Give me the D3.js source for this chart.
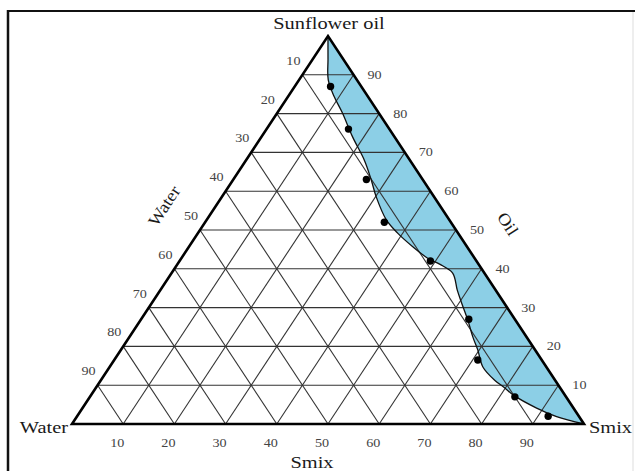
<!DOCTYPE html>
<html><head><meta charset="utf-8">
<script src="https://cdn.jsdelivr.net/npm/d3@7"></script>
<style>html,body{margin:0;padding:0;background:#fff;overflow:hidden}</style>
</head><body>
<svg id="c" width="635" height="471" xmlns="http://www.w3.org/2000/svg"></svg>
<script>
// ---- data ----
const tickValues = [10, 20, 30, 40, 50, 60, 70, 80, 90];
const vertexLabels = ["Water", "Smix", "Sunflower oil"];
const axisTitles = ["Water", "Oil", "Smix"];
// measured points (percent)
const pointOil  = [87, 76, 63, 52, 42, 27, 16.5, 7, 2];
const pointSmix = [7, 16, 26, 35, 49, 64, 71, 83, 92];
// boundary of the microemulsion region (percent)
const boundaryOil  = [100, 94, 88.7, 84.4, 80.2, 74, 68, 62.9, 58.6, 52.6, 49.2, 45.7, 42.8, 41.2, 38.9, 34.5, 31.2, 26.8, 22.4, 19.1, 14.7, 11.3, 9.3, 7.5, 4.1, 1.9, 0];
const boundarySmix = [0, 3, 5.7, 9, 12.7, 17.8, 23.1, 27, 30.1, 35.1, 39, 43.7, 48, 51.2, 54.9, 58, 60.5, 63.9, 67.1, 69.7, 72.9, 76.9, 79.9, 82.4, 88.7, 93.7, 100];

// ---- scales ----
const svg = d3.select("#c");
const xs = d3.scaleLinear().domain([0, 100]).range([72, 584]);
const ys = d3.scaleLinear().domain([0, 100]).range([424, 36]);
const P = (o, s) => [xs(s + o / 2), ys(o)];

const serif = "'Liberation Serif','Times New Roman',serif";

// frame
svg.append("line").attr("x1", 8).attr("y1", 11).attr("x2", 635).attr("y2", 11).attr("stroke", "#111").attr("stroke-width", 2);
svg.append("line").attr("x1", 8).attr("y1", 10).attr("x2", 8).attr("y2", 471).attr("stroke", "#111").attr("stroke-width", 2.5);
svg.append("line").attr("x1", 633).attr("y1", 12).attr("x2", 633).attr("y2", 471).attr("stroke", "#ddd").attr("stroke-width", 1);

// region fill
const bpts = boundaryOil.map((o, i) => P(o, boundarySmix[i]));
const curve = d3.line().curve(d3.curveCatmullRom.alpha(0.5));
svg.append("path").attr("d", curve(bpts) + "Z").attr("fill", "#8ccfe6").attr("stroke", "none");

// grid
const g = svg.append("g").attr("stroke", "#333").attr("stroke-width", 1.1).attr("fill", "none");
tickValues.forEach(v => {
  const lines = [
    [P(v, 0), P(v, 100 - v)],          // constant oil
    [P(0, v), P(100 - v, v)],          // constant smix
    [P(0, 100 - v), P(100 - v, 0)]     // constant water
  ];
  lines.forEach(l => g.append("line").attr("x1", l[0][0]).attr("y1", l[0][1]).attr("x2", l[1][0]).attr("y2", l[1][1]));
});

// boundary line
svg.append("path").attr("d", curve(bpts)).attr("fill", "none").attr("stroke", "#111").attr("stroke-width", 1.3);

// triangle
const tri = [P(0, 0), P(0, 100), P(100, 0)];
svg.append("path").attr("d", d3.line()(tri) + "Z").attr("fill", "none").attr("stroke", "#000").attr("stroke-width", 2.6).attr("stroke-linejoin", "miter");

// points
svg.append("g").selectAll("circle").data(pointOil).join("circle")
  .attr("cx", (o, i) => P(o, pointSmix[i])[0])
  .attr("cy", (o, i) => P(o, pointSmix[i])[1])
  .attr("r", 3.7).attr("fill", "#000");

// tick labels
const tl = svg.append("g").attr("font-family", serif).attr("font-size", 12).attr("fill", "#444").attr("text-anchor", "middle");
function lab(x, y, t, sx) {
  tl.append("text").attr("transform", `translate(${x},${y}) scale(${sx || 1.18},1)`).text(t);
}
tickValues.forEach(v => {
  const b = P(0, v);  lab(b[0] - 6, b[1] + 23, v);          // Smix (bottom)
  const l = P(100 - v, 0); lab(l[0] - 9, l[1] - 10, v);      // Water (left)
  const r = P(v, 100 - v); lab(r[0] + 21, r[1] + 4, v);      // Oil (right)
});

// titles
const tt = svg.append("g").attr("font-family", serif).attr("font-size", 17).attr("fill", "#1a1a1a");
function title(x, y, t, anchor, sx, rot) {
  tt.append("text").attr("text-anchor", anchor)
    .attr("transform", `translate(${x},${y}) rotate(${rot || 0}) scale(${sx},1)`).text(t);
}
title(329, 29, vertexLabels[2], "middle", 1.2);
title(68, 433, vertexLabels[0], "end", 1.2);
title(589, 433, vertexLabels[1], "start", 1.2);
title(312, 468, axisTitles[2], "middle", 1.2);
title(169, 209, axisTitles[0], "middle", 1.1, -57);
title(503, 227, axisTitles[1], "middle", 1.1, 57);
</script>
</body></html>
